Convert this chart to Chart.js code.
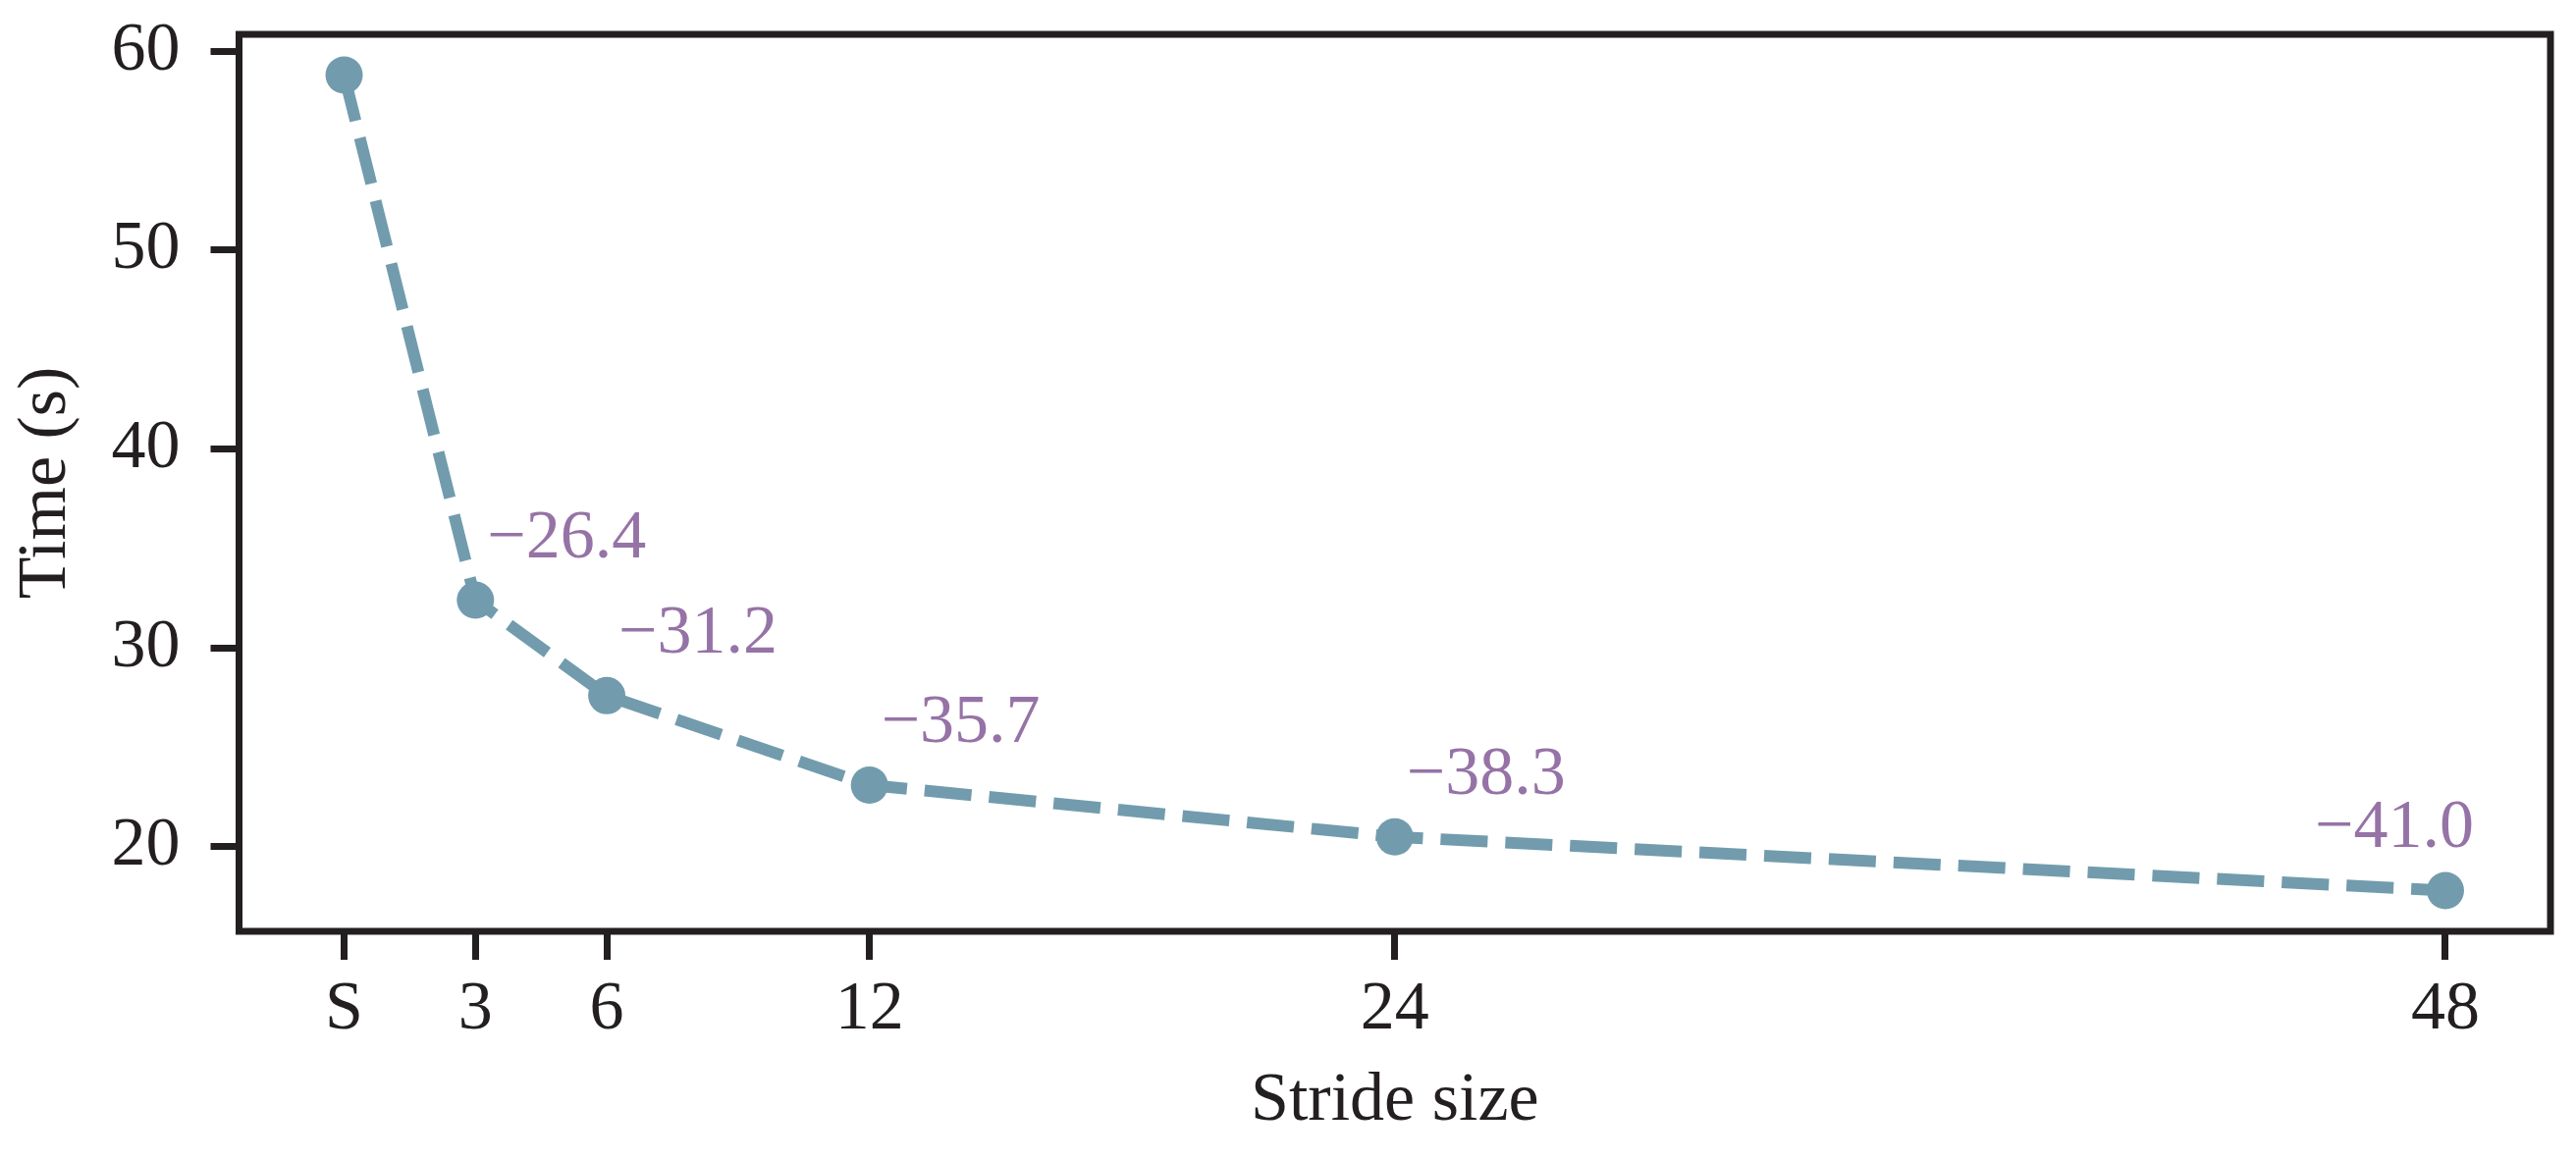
<!DOCTYPE html>
<html>
<head>
<meta charset="utf-8">
<script src="https://cdn.jsdelivr.net/npm/chart.js@4.4.1/dist/chart.umd.min.js"></script>
<style>
  html, body { margin: 0; padding: 0; background: #ffffff; }
  canvas { display: block; }
</style>
</head>
<body>
<canvas id="grafico" width="2624" height="1181"></canvas>
<script>
const strideValues = [0, 3, 6, 12, 24, 48];
const strideLabels = ['S', '3', '6', '12', '24', '48'];
const timeValues = [58.8, 32.4, 27.6, 23.1, 20.5, 17.8];
const yTicks = [20, 30, 40, 50, 60];

const inkColor = '#231f20';
const lineColor = '#729cad';
const noteColor = '#9673a6';

Chart.defaults.font.family = "'Liberation Serif', 'Times New Roman', serif";
Chart.defaults.font.size = 70;
Chart.defaults.color = inkColor;

// moldura completa em volta da area do grafico
const moldura = {
    id: 'moldura',
    afterDraw(chart) {
        const {ctx, chartArea: a} = chart;
        ctx.save();
        ctx.strokeStyle = inkColor;
        ctx.lineWidth = 7;
        ctx.strokeRect(a.left, a.top, a.right - a.left, a.bottom - a.top);
        ctx.restore();
    }
};

// diferenca de cada ponto em relacao ao primeiro
const notas = {
    id: 'notas',
    afterDatasetsDraw(chart) {
        const {ctx} = chart;
        const pts = chart.getDatasetMeta(0).data;
        ctx.save();
        ctx.fillStyle = noteColor;
        ctx.font = "70px 'Liberation Serif', 'Times New Roman', serif";
        ctx.textBaseline = 'alphabetic';
        for (let i = 1; i < pts.length; i++) {
            const txt = (timeValues[i] - timeValues[0]).toFixed(1).replace('-', '\u2212');
            const last = i === pts.length - 1;
            ctx.textAlign = last ? 'right' : 'left';
            ctx.fillText(txt, pts[i].x + (last ? 29 : 12), pts[i].y - 44);
        }
        ctx.restore();
    }
};

let linhas = new Chart(document.getElementById("grafico"), {
    type: 'line',
    data: {
        datasets: [{
            data: strideValues.map((v, i) => ({x: v, y: timeValues[i]})),
            borderColor: lineColor,
            backgroundColor: lineColor,
            borderWidth: 12,
            borderDash: [48, 18],
            tension: 0,
            pointRadius: 19,
            pointBorderWidth: 0,
            pointBackgroundColor: lineColor
        }]
    },
    options: {
        responsive: false,
        animation: false,
        layout: {
            padding: {left: 0, right: 26, top: 35, bottom: 0}
        },
        plugins: {
            legend: {display: false},
            tooltip: {enabled: false}
        },
        scales: {
            x: {
                type: 'linear',
                min: -2.4,
                max: 50.4,
                afterBuildTicks: s => { s.ticks = strideValues.map(v => ({value: v})); },
                afterFit: s => {
                    s.height = 232;
                    s.paddingLeft = 0;
                    s.paddingRight = 0;
                },
                ticks: {
                    padding: 10,
                    maxRotation: 0,
                    autoSkip: false,
                    callback: v => strideLabels[strideValues.indexOf(v)]
                },
                grid: {
                    drawOnChartArea: false,
                    tickLength: 29,
                    tickWidth: 7,
                    tickColor: inkColor
                },
                border: {display: false},
                title: {
                    display: true,
                    text: 'Stride size',
                    padding: {top: 0, bottom: 16}
                }
            },
            y: {
                min: 15.75,
                max: 60.85,
                afterBuildTicks: s => { s.ticks = yTicks.map(v => ({value: v})); },
                afterFit: s => {
                    s.width = 243.5;
                    s.paddingTop = 0;
                    s.paddingBottom = 0;
                },
                ticks: {padding: 31},
                grid: {
                    drawOnChartArea: false,
                    tickLength: 29,
                    tickWidth: 7,
                    tickColor: inkColor
                },
                border: {display: false},
                title: {
                    display: true,
                    text: 'Time (s)',
                    padding: {top: 6, bottom: 0}
                }
            }
        }
    },
    plugins: [moldura, notas]
})
</script>
</body>
</html>
